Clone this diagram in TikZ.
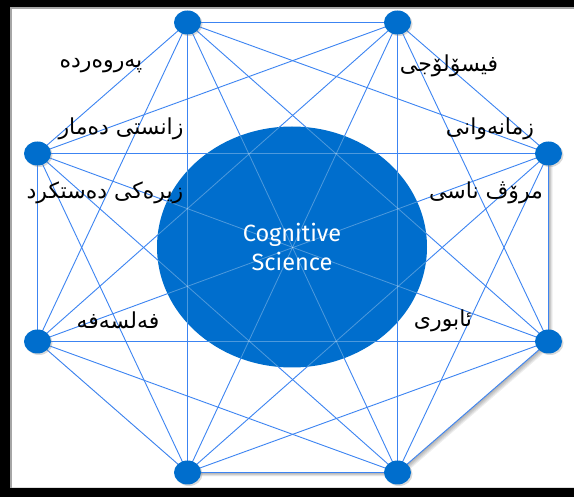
\documentclass[tikz,border=0pt]{standalone}
\usepackage{fontspec}
\setsansfont{Fira Sans}
\newfontfamily\kurdfont[Script=Arabic]{DejaVu Sans}
\TeXXeTstate=1
\usetikzlibrary{shapes.geometric,shadows,backgrounds}
\definecolor{cogblue}{RGB}{0,110,205}
\definecolor{linkblue}{RGB}{60,132,242}
\begin{document}
\begin{tikzpicture}[x=1pt,y=-1pt,
    dot/.style={ellipse,fill=cogblue,minimum width=27pt,minimum height=24pt,inner sep=0pt,
      drop shadow={shadow xshift=1.5pt,shadow yshift=-1.5pt,opacity=.3}},
    link/.style={linkblue,line width=0.9pt},
    glint/.style={white,line width=0.8pt,opacity=.3},
    field/.style={font=\kurdfont\fontsize{22}{24}\selectfont,inner sep=0pt},
    coretext/.style={font=\sffamily\fontsize{23.5}{29}\selectfont,text=white,align=center}]
    \useasboundingbox (0,0) rectangle (574,497);
    %% frame
    \fill[black,even odd rule] (0,0) rectangle (600,497) (10,7) rectangle (590,488);
    \draw[black!35,line width=2pt] (11,488) -- (11,8) -- (590,8);
    %% dots
    \foreach \n/\x/\y in {1/187.5/22.5,2/397.5/22.5,3/548.5/153.5,4/548.5/341.5,
                          5/397.5/472.5,6/187.5/472.5,7/37.5/341.5,8/37.5/153.5}
        \node[dot] (d\n) at (\x,\y) {};
    \begin{scope}[on background layer]
        %% soft shadow of the octagon
        \foreach \s in {1,...,5}
            \fill[black,opacity=.07] ([shift={(\s*0.8,\s*0.8)}]d1.center) -- ([shift={(\s*0.8,\s*0.8)}]d2.center)
                -- ([shift={(\s*0.8,\s*0.8)}]d3.center) -- ([shift={(\s*0.8,\s*0.8)}]d4.center)
                -- ([shift={(\s*0.8,\s*0.8)}]d5.center) -- ([shift={(\s*0.8,\s*0.8)}]d6.center)
                -- ([shift={(\s*0.8,\s*0.8)}]d7.center) -- ([shift={(\s*0.8,\s*0.8)}]d8.center) -- cycle;
        \fill[white] (d1.center) -- (d2.center) -- (d3.center) -- (d4.center) -- (d5.center)
            -- (d6.center) -- (d7.center) -- (d8.center) -- cycle;
        %% links
        \foreach \i in {1,...,7}{
            \pgfmathtruncatemacro\k{\i+1}
            \foreach \j in {\k,...,8}
                \draw[link] (d\i.center) -- (d\j.center);
        }
        %% core
        \node[ellipse,fill=cogblue,minimum width=270pt,minimum height=241pt,inner sep=0pt] (core) at (292,247) {};
        %% faint links across the core
        \begin{scope}
            \clip (292,247) ellipse (135 and 120.5);
            \foreach \i in {1,...,7}{
                \pgfmathtruncatemacro\k{\i+1}
                \foreach \j in {\k,...,8}
                    \draw[glint] (d\i.center) -- (d\j.center);
            }
        \end{scope}
    \end{scope}
    \node[coretext] (cog) at (core.center) {Cognitive\\Science};
    %% labels
    \node[field] (edu)  at (101,66)  {\beginR پەروەردە\endR};
    \node[field] (neu)  at (121,129) {\beginR زانستی دەمار\endR};
    \node[field] (ai)   at (105,193) {\beginR زیرەکی دەستکرد\endR};
    \node[field] (phil) at (118,320) {\beginR فەلسەفە\endR};
    \node[field] (phys) at (449,66)  {\beginR فیسۆلۆجی\endR};
    \node[field] (ling) at (490,129) {\beginR زمانەوانی\endR};
    \node[field] (anth) at (486,193) {\beginR مرۆڤ ناسی\endR};
    \node[field] (econ) at (443,321) {\beginR ئابوری\endR};
\end{tikzpicture}
\end{document}
